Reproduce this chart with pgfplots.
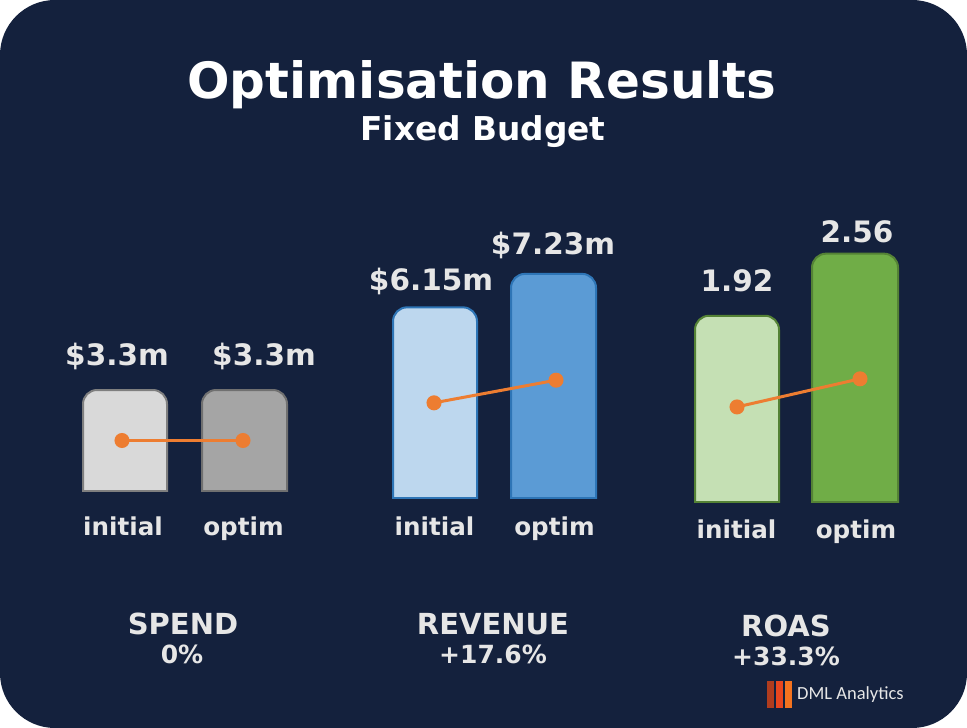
\documentclass[border=0pt]{standalone}
\usepackage{pgfplots}
\pgfplotsset{compat=1.18}
\usepackage{fontspec}
\setmainfont{DejaVu Sans}
\newfontfamily\logofont{Carlito}
\definecolor{navy}{HTML}{14213D}
\definecolor{lbl}{HTML}{E6E6E6}
\definecolor{orng}{HTML}{ED7D31}
\definecolor{spi}{HTML}{D9D9D9}
\definecolor{spid}{HTML}{7F7F7F}
\definecolor{spo}{HTML}{A5A5A5}
\definecolor{spod}{HTML}{707070}
\definecolor{rvi}{HTML}{BDD7EE}
\definecolor{rvo}{HTML}{5B9BD5}
\definecolor{rvd}{HTML}{2E75B6}
\definecolor{roi}{HTML}{C5E0B4}
\definecolor{roo}{HTML}{70AD47}
\definecolor{rod}{HTML}{548235}
\definecolor{lg1}{HTML}{B03C1E}
\definecolor{lg2}{HTML}{E8461E}
\definecolor{lg3}{HTML}{F4731F}
\newcommand\mybar[5]{%
  \addplot[fill=#4, draw=#5, line width=2pt, line cap=rect, rounded corners=14pt] coordinates {(#1,0) (#1,#3) (#2,#3) (#2,0)};
  \addplot[draw=#5, line width=2pt, line cap=rect] coordinates {(#1,0) (#2,0)};
}
\pgfplotsset{grpbase/.style={hide axis, scale only axis, clip=false, x=1pt, xmin=0, xmax=967, ymin=0, anchor=south west}}
\begin{document}
\begin{tikzpicture}[x=1pt,y=1pt]
\fill[white] (0,0) rectangle (967,728);
\useasboundingbox (0,0) rectangle (967,728);
\fill[navy, rounded corners=55pt] (0,0) rectangle (967,728);

% SPEND
\begin{axis}[grpbase, y=30.6pt, ymax=3.5, at={(0pt,237pt)}]
\mybar{83}{167}{3.3}{spi}{spid}
\mybar{202}{287}{3.3}{spo}{spod}
\addplot[color=orng, line width=3pt, mark=*, mark size=6pt] coordinates {(122,1.65) (243,1.65)};
\end{axis}

% REVENUE
\begin{axis}[grpbase, y=31pt, ymax=7.5, at={(0pt,230pt)}]
\mybar{393}{477}{6.15}{rvi}{rvd}
\mybar{511}{596}{7.23}{rvo}{rvd}
\addplot[color=orng, line width=3pt, mark=*, mark size=6pt] coordinates {(434,3.07) (556,3.8)};
\end{axis}

% ROAS
\begin{axis}[grpbase, y=97pt, ymax=2.6, at={(0pt,226pt)}]
\mybar{695}{779}{1.92}{roi}{rod}
\mybar{812}{898}{2.56}{roo}{rod}
\addplot[color=orng, line width=3pt, mark=*, mark size=6pt] coordinates {(737,0.98) (860,1.27)};
\end{axis}

\tikzset{t/.style={anchor=base, inner sep=0pt, text=lbl, font=\bfseries\fontsize{#1}{#1}\selectfont}}
\node[t=50, text=white] at (482,629) {Optimisation Results};
\node[t=32.8, text=white] at (483,587) {Fixed Budget};

\node[t=29.5] at (117,362) {\$3.3m};
\node[t=29.5] at (264,362) {\$3.3m};
\node[t=29.5] at (431,437) {\$6.15m};
\node[t=29.5] at (553,473) {\$7.23m};
\node[t=29.5] at (737,436) {1.92};
\node[t=29.5] at (857,485) {2.56};

\node[t=24.6] at (123,192) {initial};
\node[t=24.6] at (243.5,192) {optim};
\node[t=24.6] at (434.5,192) {initial};
\node[t=24.6] at (554.5,192) {optim};
\node[t=24.6] at (736.5,189) {initial};
\node[t=24.6] at (856,189) {optim};

\node[t=29] at (183,93) {SPEND};
\node[t=25] at (182,64) {0\%};
\node[t=29] at (493,93) {REVENUE};
\node[t=25] at (493,64) {+17.6\%};
\node[t=29] at (786,91) {ROAS};
\node[t=25] at (786,62) {+33.3\%};

\fill[lg1] (767,20) rectangle (774,47);
\fill[lg2] (776,20) rectangle (783,47);
\fill[lg3] (785,20) rectangle (792,47);
\node[anchor=base west, inner sep=0pt, text=lbl, font=\logofont\fontsize{18.5}{18.5}\selectfont] at (797,28) {DML Analytics};
\end{tikzpicture}
\end{document}
